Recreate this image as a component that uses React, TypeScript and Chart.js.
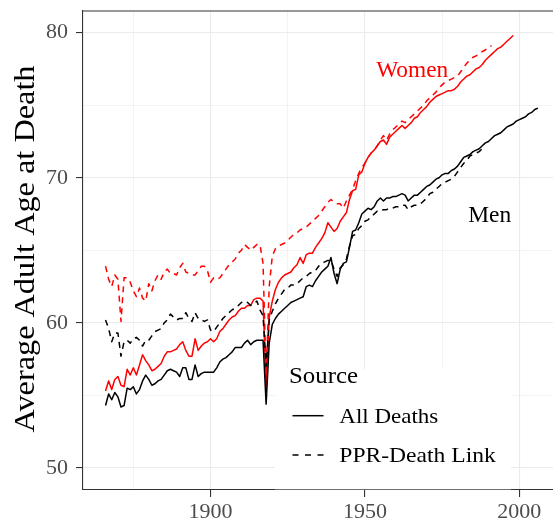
import React, { useEffect, useRef } from "react";
import { Chart, registerables } from "chart.js";

Chart.register(...registerables);

const FIRST_YEAR = 1866;

// Men, all deaths (1866–2006)
const MEN_ALL = [
  54.3, 55.1, 54.7, 55.2, 54.9, 54.2, 54.3, 55.5, 55.4, 55.6,
  55.1, 55.4, 56.0, 56.4, 56.1, 55.7, 55.8, 56.0, 56.1, 56.4,
  56.7, 56.8, 56.7, 56.6, 56.3, 56.9, 56.9, 56.1, 56.1, 57.1,
  56.3, 56.5, 56.6, 56.6, 56.6, 56.6, 56.9, 57.3, 57.5, 57.6,
  57.8, 58.0, 58.3, 58.3, 58.3, 58.6, 58.8, 58.5, 58.7, 58.8,
  58.8, 58.8, 54.4, 58.6, 59.9, 60.3, 60.6, 60.8, 61.0, 61.2,
  61.4, 61.5, 61.6, 61.7, 61.8, 62.5, 62.6, 62.5, 62.9, 63.2,
  63.5, 63.7, 63.9, 64.5, 63.4, 62.7, 63.7, 64.1, 64.2, 65.2,
  66.3, 66.4, 66.9, 67.5, 67.7, 67.9, 67.8, 68.0, 68.4, 68.6,
  68.4, 68.6, 68.6, 68.7, 68.7, 68.8, 68.9, 68.8, 68.4, 68.6,
  68.8, 68.8, 69.0, 69.2, 69.4, 69.5, 69.7, 69.9, 70.0, 70.2,
  70.3, 70.3, 70.5, 70.6, 70.8, 71.1, 71.4, 71.5, 71.6, 71.8,
  71.9, 72.0, 72.2, 72.4, 72.5, 72.7, 72.9, 73.0, 73.1, 73.3,
  73.5, 73.6, 73.7, 73.9, 74.0, 74.1, 74.2, 74.4, 74.5, 74.7,
  74.8,
];

// Men, PPR-death link (1866–1989)
const MEN_PPR = [
  60.2, 59.6, 58.7, 59.3, 59.3, 57.7, 58.7, 58.8, 58.6, 58.9,
  59.0, 58.8, 58.4, 58.8, 58.8, 59.1, 59.4, 59.5, 59.6, 60.0,
  60.2, 60.6, 60.4, 60.2, 60.3, 60.3, 60.7, 60.3, 60.1, 60.7,
  60.3, 60.2, 60.1, 60.2, 59.5, 59.4, 59.7, 60.0, 60.3, 60.5,
  60.7, 60.9, 61.0, 61.2, 61.4, 61.5, 61.4, 61.2, 61.3, 61.5,
  60.9, 60.5, 57.0, 60.2, 60.8, 61.3, 61.7, 62.0, 62.3, 62.4,
  62.6, 62.6, 62.7, 62.9, 63.1, 63.2, 63.4, 63.5, 63.6, 63.9,
  64.1, 64.2, 64.3, 64.3, 63.7, 63.2, 63.8, 64.0, 64.4, 65.3,
  66.0, 66.1, 66.5, 66.7, 67.0, 67.1, 67.3, 67.5, 67.7, 67.7,
  67.8, 67.8, 67.9, 67.9, 68.0, 68.0, 68.1, 68.1, 67.8, 68.0,
  68.1, 68.1, 68.2, 68.4, 68.6, 68.9, 69.0, 69.2, 69.4, 69.6,
  69.7, 69.8, 69.9, 70.1, 70.4, 70.7, 71.0, 71.2, 71.5, 71.6,
  71.7, 71.8, 72.0, 72.1,
];

// Women, all deaths (1866–1998)
const WOMEN_ALL = [
  55.3, 56.0, 55.4, 56.1, 56.3, 55.7, 55.6, 56.8, 56.4, 56.9,
  56.4, 57.1, 57.8, 57.4, 57.1, 56.7, 56.8, 57.0, 57.2, 57.7,
  58.0, 58.0, 58.1, 58.2, 58.5, 58.7, 58.1, 57.7, 57.7, 58.9,
  58.1, 58.4, 58.6, 58.7, 58.9, 58.7, 58.9, 59.4, 59.6, 59.9,
  60.2, 60.4, 60.5, 60.8, 61.0, 61.0, 61.2, 61.2, 61.6, 61.7,
  61.7, 61.5, 55.6, 60.4, 61.5, 62.3, 62.8, 63.1, 63.3, 63.4,
  63.5, 63.8, 64.0, 64.5, 64.1, 64.7, 64.8, 64.8, 65.2, 65.5,
  65.8, 66.2, 66.9, 66.6, 66.3, 66.5, 67.0, 67.3, 67.6, 68.5,
  69.1, 69.2, 70.2, 70.4, 71.0, 71.4, 71.7, 71.9, 72.2, 72.5,
  72.6, 72.3, 72.8, 73.0, 73.2, 73.4, 73.6, 73.4, 73.6, 73.8,
  74.1, 74.2, 74.5, 74.7, 74.9, 75.2, 75.4, 75.6, 75.7, 75.8,
  75.9, 76.0, 76.0, 76.1, 76.3, 76.6, 76.8, 77.0, 77.1, 77.3,
  77.5, 77.6, 77.8, 78.1, 78.3, 78.5, 78.7, 78.9, 79.0, 79.2,
  79.4, 79.6, 79.8,
];

// Women, PPR-death link (1866–1991)
const WOMEN_PPR = [
  63.9, 63.0, 62.5, 63.3, 63.0, 60.1, 63.1, 63.1, 62.8, 62.2,
  61.8, 62.4, 61.7, 61.5, 62.7, 62.2, 62.9, 63.3, 63.0, 63.5,
  63.7, 63.4, 63.4, 63.3, 63.8, 64.1, 63.5, 63.4, 63.3, 63.3,
  63.6, 63.9, 63.9, 63.6, 62.8, 63.1, 63.0, 63.1, 63.4, 63.7,
  64.0, 64.2, 64.4, 64.8, 65.0, 65.4, 65.2, 65.0, 65.2, 65.4,
  65.4, 64.1, 56.3, 62.5, 64.6, 65.1, 65.3, 65.4, 65.5, 65.7,
  65.9, 66.1, 66.2, 66.4, 66.5, 66.6, 66.8, 67.0, 67.2, 67.4,
  67.7, 68.0, 68.3, 68.5, 68.3, 68.2, 68.2, 67.9, 68.4, 68.8,
  69.2, 69.8, 70.3, 70.7, 71.0, 71.4, 71.7, 71.9, 72.2, 72.6,
  72.9, 72.6, 73.0, 73.3, 73.5, 73.7, 73.9, 73.8, 74.0, 74.2,
  74.4, 74.6, 74.8, 75.0, 75.3, 75.5, 75.7, 75.9, 76.2, 76.4,
  76.6, 76.7, 76.8, 76.9, 77.0, 77.3, 77.6, 77.9, 78.1, 78.3,
  78.4, 78.5, 78.7, 78.8, 79.0, 79.1,
];

const X_MIN = 1858.7;
const X_MAX = 2010.9;
const Y_MIN = 48.48;
const Y_MAX = 81.49;
const X_GRID = [1875, 1900, 1925, 1950, 1975, 2000];
const Y_GRID = [50, 55, 60, 65, 70, 75, 80];

const Y_TITLE = "Average Adult Age at Death";
const LEGEND_TITLE = "Source";
const LEGEND_ITEMS = ["All Deaths", "PPR-Death Link"];
const LABEL_WOMEN = { text: "Women", x: 1965.3, y: 76.94 };
const LABEL_MEN = { text: "Men", x: 1990.4, y: 66.94 };

const RED = "#ff0000";
const BLACK = "#000000";
const FONT = '"Liberation Serif", "Times New Roman", serif';

function toPoints(values: number[]) {
  return values.map((v, i) => ({ x: FIRST_YEAR + i, y: v }));
}

function drawFit(
  ctx: CanvasRenderingContext2D,
  text: string,
  x: number,
  y: number,
  width: number,
  size: number,
  align: CanvasTextAlign,
  color: string
) {
  ctx.save();
  ctx.font = `${size}px ${FONT}`;
  const w = ctx.measureText(text).width;
  const s = width / w;
  ctx.translate(x, y);
  ctx.scale(s, 1);
  ctx.textAlign = align;
  ctx.textBaseline = "alphabetic";
  ctx.fillStyle = color;
  ctx.fillText(text, 0, 0);
  ctx.restore();
}

const decor = {
  id: "decor",
  beforeDatasetsDraw(chart: any) {
    const ctx = chart.ctx as CanvasRenderingContext2D;
    const area = chart.chartArea;
    ctx.save();
    ctx.fillStyle = "#ffffff";
    ctx.fillRect(275, 369, 236, area.bottom - 369 - 0.7);
    ctx.restore();
  },
  afterDraw(chart: any) {
    const ctx = chart.ctx as CanvasRenderingContext2D;
    const area = chart.chartArea;
    const xs = chart.scales.x;
    const ys = chart.scales.y;

    // top border
    ctx.save();
    ctx.strokeStyle = "#333333";
    ctx.lineWidth = 1.1;
    ctx.beginPath();
    ctx.moveTo(area.left, area.top);
    ctx.lineTo(area.right, area.top);
    ctx.stroke();
    ctx.restore();

    // y title
    ctx.save();
    ctx.translate(34, 249);
    ctx.rotate(-Math.PI / 2);
    drawFit(ctx, Y_TITLE, 0, 0, 367, 30, "center", BLACK);
    ctx.restore();

    // direct labels
    drawFit(ctx, LABEL_WOMEN.text, xs.getPixelForValue(LABEL_WOMEN.x), ys.getPixelForValue(LABEL_WOMEN.y), 72, 23, "center", RED);
    drawFit(ctx, LABEL_MEN.text, xs.getPixelForValue(LABEL_MEN.x), ys.getPixelForValue(LABEL_MEN.y), 43, 23, "center", BLACK);

    // legend
    drawFit(ctx, LEGEND_TITLE, 289, 383.3, 69, 24, "left", BLACK);
    ctx.save();
    ctx.strokeStyle = BLACK;
    ctx.lineWidth = 1.5;
    ctx.beginPath();
    ctx.moveTo(292.5, 415.7);
    ctx.lineTo(323.5, 415.7);
    ctx.stroke();
    ctx.setLineDash([6, 6.5]);
    ctx.beginPath();
    ctx.moveTo(292.5, 455);
    ctx.lineTo(323.5, 455);
    ctx.stroke();
    ctx.restore();
    drawFit(ctx, LEGEND_ITEMS[0], 339.3, 423.3, 99, 22, "left", BLACK);
    drawFit(ctx, LEGEND_ITEMS[1], 339.3, 461.7, 156.5, 22, "left", BLACK);
  },
};

const isMajorY = (v: number) => v % 10 === 0;
const isMajorX = (v: number) => v % 50 === 0;

export default function App() {
  const ref = useRef<HTMLCanvasElement | null>(null);

  useEffect(() => {
    const canvas = ref.current;
    if (!canvas) return;
    const chart = new Chart(canvas, {
      type: "line",
      data: {
        datasets: [
          {
            label: "Men PPR",
            data: toPoints(MEN_PPR),
            borderColor: BLACK,
            borderWidth: 1.5,
            borderDash: [6, 5],
          },
          {
            label: "Women PPR",
            data: toPoints(WOMEN_PPR),
            borderColor: RED,
            borderWidth: 1.5,
            borderDash: [6, 5],
          },
          {
            label: "Men All",
            data: toPoints(MEN_ALL),
            borderColor: BLACK,
            borderWidth: 1.5,
          },
          {
            label: "Women All",
            data: toPoints(WOMEN_ALL),
            borderColor: RED,
            borderWidth: 1.5,
          },
        ],
      },
      options: {
        responsive: false,
        animation: false,
        devicePixelRatio: 1,
        layout: { padding: { top: 11, left: 0, right: 0, bottom: 0 } },
        elements: {
          point: { radius: 0 },
          line: { tension: 0, borderJoinStyle: "round", fill: false },
        },
        plugins: {
          legend: { display: false },
          tooltip: { enabled: false },
          title: { display: false },
        },
        scales: {
          x: {
            type: "linear",
            min: X_MIN,
            max: X_MAX,
            afterBuildTicks: (s: any) => {
              s.ticks = X_GRID.map((v) => ({ value: v }));
            },
            afterFit: (s: any) => {
              s.height = 33;
              s.paddingLeft = 0;
              s.paddingRight = 0;
            },
            grid: {
              color: "#ebebeb",
              lineWidth: (c: any) => (c.tick && isMajorX(c.tick.value) ? 1.1 : 0.6),
              tickColor: (c: any) => (c.tick && isMajorX(c.tick.value) ? "#333333" : "rgba(0,0,0,0)"),
              tickWidth: 1.1,
              tickLength: 7,
              drawTicks: true,
            },
            border: { color: "#333333", width: 1.1 },
            ticks: {
              autoSkip: false,
              maxRotation: 0,
              padding: 2,
              color: "#4d4d4d",
              font: { family: FONT, size: 22 },
              callback: (v: any) => (isMajorX(Number(v)) ? String(v) : ""),
            },
          },
          y: {
            type: "linear",
            min: Y_MIN,
            max: Y_MAX,
            afterBuildTicks: (s: any) => {
              s.ticks = Y_GRID.map((v) => ({ value: v }));
            },
            afterFit: (s: any) => {
              s.width = 83;
              s.paddingTop = 0;
              s.paddingBottom = 0;
            },
            grid: {
              color: "#ebebeb",
              lineWidth: (c: any) => (c.tick && isMajorY(c.tick.value) ? 1.1 : 0.6),
              tickColor: (c: any) => (c.tick && isMajorY(c.tick.value) ? "#333333" : "rgba(0,0,0,0)"),
              tickWidth: 1.1,
              tickLength: 7,
              drawTicks: true,
            },
            border: { color: "#333333", width: 1.1 },
            ticks: {
              autoSkip: false,
              padding: 8,
              color: "#4d4d4d",
              font: { family: FONT, size: 22 },
              callback: (v: any) => (isMajorY(Number(v)) ? String(v) : ""),
            },
          },
        },
      },
      plugins: [decor],
    } as any);
    return () => chart.destroy();
  }, []);

  return (
    <div style={{ position: "absolute", left: 0, top: 0, width: 553, height: 523, background: "#fff" }}>
      <canvas ref={ref} width={553} height={523} style={{ display: "block" }} />
    </div>
  );
}
